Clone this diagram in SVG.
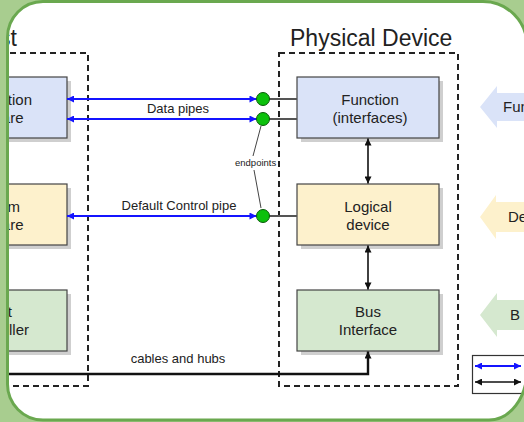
<svg xmlns="http://www.w3.org/2000/svg" width="524" height="422" viewBox="0 0 524 422">
  <style>
    text { font-family: "Liberation Sans", Arial, sans-serif; fill: #222; }
    .title { font-size: 23px; }
    .lbl { font-size: 15px; }
    .pipe { font-size: 13px; }
    .small { font-size: 9.5px; }
    .frame-box { fill: none; stroke: #222; stroke-width: 2; stroke-dasharray: 6 4; }
    .shadow { fill: #cfcfcf; }
    .box { stroke: #444; stroke-width: 1.2; }
    .blue { fill: #dae3f8; }
    .yellow { fill: #fdf1cc; }
    .green { fill: #d5e8cf; }
    .bpipe { stroke: #1414ff; stroke-width: 2; fill: none; }
    .blk { stroke: #111; stroke-width: 1.6; fill: none; }
    .stub { stroke: #555; stroke-width: 2; }
    .ep { fill: #0cc00c; stroke: #0a5a0a; stroke-width: 1; }
    .lead { stroke: #444; stroke-width: 1; fill: none; }
  </style>
  <defs>
    <marker id="ahBlue" viewBox="0 0 10 10" refX="10" refY="5" markerWidth="8" markerHeight="7" markerUnits="userSpaceOnUse" orient="auto-start-reverse">
      <path d="M0,0 L10,5 L0,10 Z" fill="#1414ff"/>
    </marker>
    <marker id="ahBlack" viewBox="0 0 10 10" refX="10" refY="5" markerWidth="8" markerHeight="7" markerUnits="userSpaceOnUse" orient="auto-start-reverse">
      <path d="M0,0 L10,5 L0,10 Z" fill="#111"/>
    </marker>
  </defs>

  <rect width="524" height="422" fill="#ffffff"/>

  <!-- dashed grouping boxes -->
  <g id="host-area">
    <path class="frame-box" d="M-10,53 H88 V386 H-10"/>
    <text class="title" x="17" y="46" text-anchor="end">st</text>
  </g>
  <g id="device-area">
    <rect class="frame-box" x="279" y="53" width="179" height="333"/>
    <text class="title" x="290" y="46">Physical Device</text>
  </g>

  <!-- host side boxes -->
  <g id="host-software">
    <rect class="shadow" x="-71" y="81" width="142" height="61"/>
    <rect class="box blue" x="-75" y="77" width="142" height="61"/>
    <text class="lbl" x="32" y="105" text-anchor="end">tion</text>
    <text class="lbl" x="23.5" y="123" text-anchor="end">are</text>
  </g>
  <g id="host-system">
    <rect class="shadow" x="-71" y="188" width="142" height="61"/>
    <rect class="box yellow" x="-75" y="184" width="142" height="61"/>
    <text class="lbl" x="20" y="212" text-anchor="end">m</text>
    <text class="lbl" x="23.5" y="230" text-anchor="end">are</text>
  </g>
  <g id="host-controller">
    <rect class="shadow" x="-71" y="294" width="142" height="61"/>
    <rect class="box green" x="-75" y="290" width="142" height="61"/>
    <text class="lbl" x="12" y="317" text-anchor="end">t</text>
    <text class="lbl" x="29" y="335" text-anchor="end">oller</text>
  </g>

  <!-- device side boxes -->
  <g id="function">
    <rect class="shadow" x="301" y="81" width="142" height="61"/>
    <rect class="box blue" x="297" y="77" width="142" height="61"/>
    <text class="lbl" x="370" y="105" text-anchor="middle">Function</text>
    <text class="lbl" x="370" y="123" text-anchor="middle">(interfaces)</text>
  </g>
  <g id="logical-device">
    <rect class="shadow" x="301" y="188" width="142" height="61"/>
    <rect class="box yellow" x="297" y="184" width="142" height="61"/>
    <text class="lbl" x="368" y="212" text-anchor="middle">Logical</text>
    <text class="lbl" x="368" y="230" text-anchor="middle">device</text>
  </g>
  <g id="bus-interface">
    <rect class="shadow" x="301" y="294" width="142" height="61"/>
    <rect class="box green" x="297" y="290" width="142" height="61"/>
    <text class="lbl" x="368" y="317" text-anchor="middle">Bus</text>
    <text class="lbl" x="368" y="335" text-anchor="middle">Interface</text>
  </g>

  <!-- layer arrows on the right -->
  <g id="layer-function">
    <polygon points="480,107 497,86 497,93 530,93 530,121 497,121 497,128" fill="#dae3f8"/>
    <text class="lbl" x="503" y="112">Fun</text>
  </g>
  <g id="layer-device">
    <polygon points="480,217 496,195 496,202 530,202 530,232 496,232 496,239" fill="#fdf1cc"/>
    <text class="lbl" x="508" y="222">De</text>
  </g>
  <g id="layer-bus">
    <polygon points="480,315 497,293 497,300 530,300 530,330 497,330 497,337" fill="#d5e8cf"/>
    <text class="lbl" x="510" y="320">B</text>
  </g>

  <!-- legend -->
  <g id="legend">
    <rect x="472.5" y="355.5" width="62" height="38" fill="#fff" stroke="#333" stroke-width="1.2"/>
    <line class="bpipe" x1="475" y1="366" x2="521" y2="366" marker-start="url(#ahBlue)" marker-end="url(#ahBlue)"/>
    <line class="blk" x1="475" y1="382" x2="521" y2="382" marker-start="url(#ahBlack)" marker-end="url(#ahBlack)"/>
  </g>

  <!-- connectors -->
  <g id="connectors">
    <line class="stub" x1="269" y1="99" x2="297" y2="99"/>
    <line class="stub" x1="269" y1="119" x2="297" y2="119"/>
    <line class="stub" x1="269" y1="216" x2="297" y2="216"/>

    <line class="bpipe" x1="67" y1="99" x2="256.5" y2="99" marker-start="url(#ahBlue)" marker-end="url(#ahBlue)"/>
    <line class="bpipe" x1="67" y1="119" x2="256.5" y2="119" marker-start="url(#ahBlue)" marker-end="url(#ahBlue)"/>
    <line class="bpipe" x1="67" y1="216" x2="256.5" y2="216" marker-start="url(#ahBlue)" marker-end="url(#ahBlue)"/>
    <text class="pipe" x="178" y="113" text-anchor="middle">Data pipes</text>
    <text class="pipe" x="179" y="210" text-anchor="middle">Default Control pipe</text>

    <circle class="ep" cx="263" cy="99" r="6.5"/>
    <circle class="ep" cx="263" cy="119" r="6.5"/>
    <circle class="ep" cx="263" cy="216" r="6.5"/>

    <path class="lead" d="M253,156 L261,126"/>
    <path class="lead" d="M254,170 L261,208"/>
    <text class="small" x="235" y="166">endpoints</text>

    <line class="blk" x1="368" y1="138.5" x2="368" y2="183.5" marker-start="url(#ahBlack)" marker-end="url(#ahBlack)"/>
    <line class="blk" x1="368" y1="245.5" x2="368" y2="289.5" marker-start="url(#ahBlack)" marker-end="url(#ahBlack)"/>

    <path d="M-10,374 H368 V351.5" fill="none" stroke="#111" stroke-width="2.4" marker-end="url(#ahBlack)"/>
    <text class="pipe" x="178" y="363" text-anchor="middle">cables and hubs</text>
  </g>

  <!-- surrounding panel frame -->
  <g id="panel">
    <path fill="#a8cd8f" fill-rule="evenodd" d="M-5,-5 H530 V430 H-5 Z M43,1.5 H483 A44,44 0 0 1 527,45.5 V370 A38,50 0 0 1 489,420 H43 A35.5,36 0 0 1 7.5,384 V37.5 A35.5,36 0 0 1 43,1.5 Z"/>
    <path fill="none" stroke="#6aa84f" stroke-width="3" d="M43,1.5 H483 A44,44 0 0 1 527,45.5 V370 A38,50 0 0 1 489,420 H43 A35.5,36 0 0 1 7.5,384 V37.5 A35.5,36 0 0 1 43,1.5 Z"/>
  </g>
</svg>
